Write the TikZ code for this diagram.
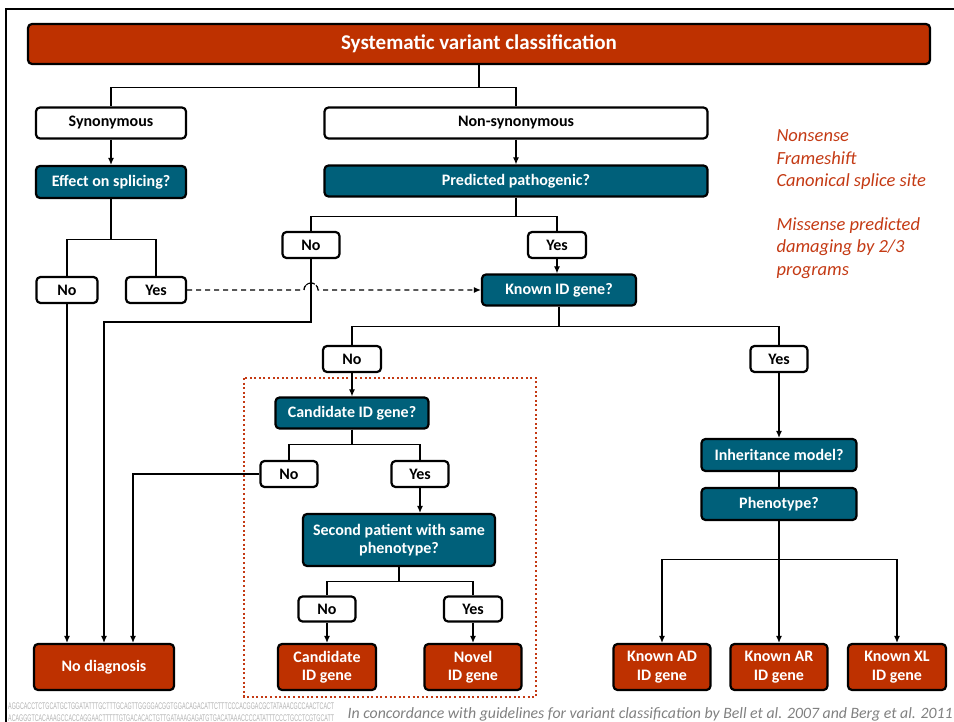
\documentclass[tikz,border=0pt]{standalone}
\usepackage{fontspec}
\setmainfont{Carlito}
\newfontfamily\dnafont{Liberation Sans}
\usetikzlibrary{arrows.meta,calc}
\definecolor{vred}{RGB}{190,49,0}
\definecolor{vteal}{RGB}{0,96,122}
\definecolor{itred}{RGB}{196,58,20}
\definecolor{capgray}{RGB}{128,128,128}
\definecolor{dnagray}{RGB}{180,180,180}
\tikzset{
  box/.style={draw=black, line width=2.2pt, rounded corners=4pt, inner sep=1pt, align=center,
    font=\bfseries\fontsize{16}{18.5}\selectfont},
  wbox/.style={box, fill=white, text=black},
  tbox/.style={box, fill=vteal, text=white},
  rbox/.style={box, fill=vred, text=white},
  conn/.style={draw=black, line width=1.1pt},
  arr/.style={conn, -{Latex[length=7pt,width=6pt]}},
}
\begin{document}
\begin{tikzpicture}[x=1pt,y=-1pt]
\useasboundingbox (0,0) rectangle (954,722);
% frame
\draw[line width=2.5pt] (6,722) -- (6,9) -- (960,9);
% title
\node[rbox, minimum width=902pt, minimum height=40pt, font=\bfseries\fontsize{21}{24}\selectfont] (title) at (479,44) {Systematic variant classification};
% level 1
\node[wbox, minimum width=150pt, minimum height=31pt] (syn) at (111,123) {Synonymous};
\node[wbox, minimum width=383pt, minimum height=31pt] (nonsyn) at (516,123) {Non-synonymous};
\node[tbox, minimum width=150pt, minimum height=32pt] (splice) at (111,182) {Effect on splicing?};
\node[tbox, minimum width=383pt, minimum height=31pt] (pred) at (516,181) {Predicted pathogenic?};
% yes/no
\node[wbox, minimum width=61pt, minimum height=26pt] (noL) at (67,290) {No};
\node[wbox, minimum width=60pt, minimum height=26pt] (yesL) at (156,290) {Yes};
\node[wbox, minimum width=57pt, minimum height=26pt] (noM) at (311,245) {No};
\node[wbox, minimum width=58pt, minimum height=26pt] (yesM) at (557,245) {Yes};
\node[tbox, minimum width=154pt, minimum height=31pt] (known) at (559,290) {Known ID gene?};
\node[wbox, minimum width=58pt, minimum height=26pt] (noK) at (352,359) {No};
\node[wbox, minimum width=57pt, minimum height=26pt] (yesK) at (779,359) {Yes};
\node[tbox, minimum width=153pt, minimum height=31pt] (cand) at (352,413) {Candidate ID gene?};
\node[wbox, minimum width=57pt, minimum height=26pt] (noC) at (289,474) {No};
\node[wbox, minimum width=57pt, minimum height=26pt] (yesC) at (420,474) {Yes};
\node[tbox, minimum width=192pt, minimum height=52pt] (second) at (399,540) {Second patient with same\\phenotype?};
\node[wbox, minimum width=57pt, minimum height=25pt] (noS) at (327,609) {No};
\node[wbox, minimum width=58pt, minimum height=25pt] (yesS) at (473,609) {Yes};
\node[tbox, minimum width=155pt, minimum height=32pt] (inher) at (779,455) {Inheritance model?};
\node[tbox, minimum width=155pt, minimum height=32pt] (pheno) at (779,504) {Phenotype?};
% outcomes
\node[rbox, minimum width=140pt, minimum height=46pt] (nodiag) at (104,667) {No diagnosis};
\node[rbox, minimum width=98pt, minimum height=46pt] (candgene) at (327,667) {Candidate\\ID gene};
\node[rbox, minimum width=97pt, minimum height=46pt] (novel) at (473,667) {Novel\\ID gene};
\node[rbox, minimum width=97pt, minimum height=46pt] (kad) at (662,667) {Known AD\\ID gene};
\node[rbox, minimum width=97pt, minimum height=46pt] (kar) at (779,667) {Known AR\\ID gene};
\node[rbox, minimum width=98pt, minimum height=46pt] (kxl) at (897,667) {Known XL\\ID gene};
% dotted frame
\draw[itred, line width=2pt, dash pattern=on 2pt off 2.6pt] (244,378) rectangle (536,697);
% connectors
\draw[conn] (title.south) -- ++(0,22) -| (syn.north);
\draw[conn] (title.south) -- ++(0,22) -| (nonsyn.north);
\draw[arr] (syn.south) -- (splice.north);
\draw[arr] (nonsyn.south) -- (pred.north);
\draw[conn] (splice.south) -- ++(0,40) -| (noL.north);
\draw[conn] (splice.south) -- ++(0,40) -| (yesL.north);
\draw[conn] (pred.south) -- ++(0,19) -| (noM.north);
\draw[conn] (pred.south) -- ++(0,19) -| (yesM.north);
\draw[arr] (yesM.south) -- (yesM.south |- known.north);
\coordinate (hop) at (noM.south |- yesL.east);
\draw[conn, dash pattern=on 5pt off 4pt, -{Latex[length=7pt,width=6pt]}] (yesL.east) -- ([xshift=-7pt]hop) arc[start angle=180, end angle=0, radius=7pt] -- (known.west);
\draw[conn, line width=1pt, dash pattern=on 4pt off 1.5pt] ([xshift=-7pt]hop) arc[start angle=180, end angle=0, radius=7pt];
\coordinate (c1) at (104,322);
\draw[arr] (noM.south) |- (c1) -- (c1 |- nodiag.north);
\draw[arr] (noL.south) -- (noL.south |- nodiag.north);
\draw[conn] (known.south) -- ++(0,20) -| (noK.north);
\draw[conn] (known.south) -- ++(0,20) -| (yesK.north);
\draw[arr] (noK.south) -- (cand.north);
\draw[conn] (cand.south) -- ++(0,15) -| (noC.north);
\draw[conn] (cand.south) -- ++(0,15) -| (yesC.north);
\coordinate (c2) at (133,474);
\draw[arr] (noC.west) -- (c2) -- (c2 |- nodiag.north);
\draw[arr] (yesC.south) -- (yesC.south |- second.north);
\draw[conn] (second.south) -- ++(0,14) -| (noS.north);
\draw[conn] (second.south) -- ++(0,14) -| (yesS.north);
\draw[arr] (noS.south) -- (candgene.north);
\draw[arr] (yesS.south) -- (novel.north);
\draw[arr] (yesK.south) -- (inher.north);
\draw[conn] (inher.south) -- (pheno.north);
\draw[conn] (pheno.south) -- ++(0,38) coordinate (c3);
\draw[arr] (c3) -| (kad.north);
\draw[arr] (c3) -| (kxl.north);
\draw[arr] (c3) -- (kar.north);
% right text
\node[anchor=west, align=left, text=itred, font=\itshape\fontsize{18.5}{22.5}\selectfont] (txt1) at (773,160) {Nonsense\\Frameshift\\Canonical splice site};
\node[anchor=west, align=left, text=itred, font=\itshape\fontsize{18.5}{22.5}\selectfont] (txt2) at (773,248) {Missense predicted\\damaging by 2/3\\programs};
% caption
\node[anchor=east, text=capgray, font=\itshape\fontsize{15.8}{18}\selectfont, inner sep=0pt] (cap) at (953,714) {In concordance with guidelines for variant classification by Bell et al. 2007 and Berg et al. 2011};
\node[anchor=west, inner sep=0pt, text=dnagray] (dna) at (8,713) {\resizebox{326pt}{14pt}{\dnafont\begin{tabular}{@{}l@{}}AGGCACCTCTGCATGCTGGATATTTGCTTTGCAGTTGGGGACGGTGGACAGACATTCTTTCCCACGGACGCTATAAACGCCAACTCACT\\ACAGGGTCACAAAGCCACCAGGAACTTTTTGTGACACACTGTTGATAAAGAGATGTGACATAAACCCCATATTTCCCTGCCTCGTGCATT\end{tabular}}};
\end{tikzpicture}
\end{document}
